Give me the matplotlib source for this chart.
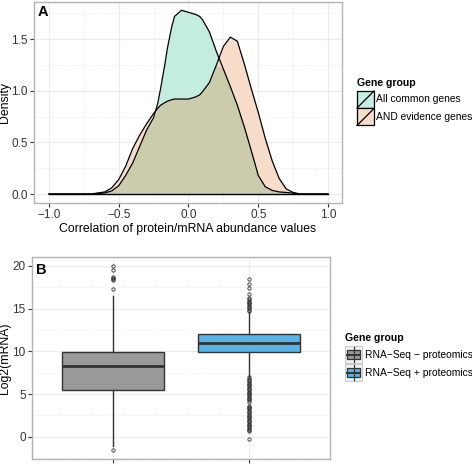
import numpy as np
import matplotlib
matplotlib.use("Agg")
from matplotlib import pyplot as plt
from matplotlib.patches import Rectangle
from matplotlib.lines import Line2D

plt.rcParams['font.family'] = ['Liberation Sans', 'DejaVu Sans']

# panel A: density estimates
corr = [-1.0, -0.7, -0.6, -0.55, -0.5, -0.45, -0.4, -0.35, -0.3, -0.25, -0.22, -0.2,
        -0.17, -0.15, -0.12, -0.1, -0.05, 0.0, 0.05, 0.08, 0.1, 0.15, 0.2, 0.25, 0.3, 0.35, 0.4,
        0.45, 0.5, 0.55, 0.6, 0.65, 0.7, 0.75, 0.8, 1.0]
dens_common = [0.0, 0.0, 0.01, 0.03, 0.08, 0.18, 0.3, 0.46, 0.62, 0.74, 0.88, 1.02,
               1.25, 1.42, 1.62, 1.72, 1.78, 1.76, 1.74, 1.72, 1.69, 1.57, 1.38, 1.21, 1.04, 0.86, 0.65,
               0.42, 0.18, 0.07, 0.035, 0.02, 0.015, 0.008, 0.0, 0.0]
dens_and = [0.0, 0.0, 0.02, 0.06, 0.14, 0.27, 0.44, 0.57, 0.68, 0.78, 0.83, 0.86,
            0.885, 0.9, 0.913, 0.92, 0.92, 0.92, 0.94, 0.96, 0.99, 1.08, 1.25, 1.43, 1.52, 1.48, 1.26,
            1.02, 0.79, 0.54, 0.32, 0.15, 0.05, 0.015, 0.0, 0.0]
groups_a = ["All common genes", "AND evidence genes"]
colors_a = ["#C4EDE2", "#F6DCC9"]
overlap_color = "#CBCCAB"

# panel B: box statistics
groups_b = ["RNA\u2212Seq \u2212 proteomics", "RNA\u2212Seq + proteomics"]
colors_b = ["#999999", "#56B4E9"]
q1 = [5.42, 9.95]
med = [8.3, 10.96]
q3 = [9.95, 12.0]
whislo = [-1.13, 7.05]
whishi = [16.5, 14.66]
fliers_minus = [20.0, 19.5, 18.75, 18.6, 18.45, 18.3, 17.3, -1.6]
fliers_plus = [14.75, 14.9, 15.05, 15.2, 15.35, 15.5, 15.65, 15.8, 15.95, 16.1, 16.2,
               16.7, 17.4, 17.9, 18.5,
               6.95, 6.8, 6.65, 6.5, 6.35, 6.2, 6.05, 5.9, 5.75, 5.6, 5.45, 5.3, 5.15,
               5.0, 4.85, 4.7, 4.55, 4.4, 4.25, 4.1, 3.65, 3.5, 3.35, 3.2, 3.05, 2.9,
               2.75, 2.6, 2.45, 2.3, 2.15, 2.0, 1.85, 1.7, 1.55, 1.4, 1.25, 1.1, 0.95,
               0.8, 0.65, -0.3]

fig = plt.figure(figsize=(4.72, 4.65), dpi=100)
W, H = 472.0, 465.0


def style(ax):
    for s in ax.spines.values():
        s.set_color("#B3B3B3")
        s.set_linewidth(1.0)
    ax.grid(which="major", color="#EBEBEB", linewidth=0.8)
    ax.grid(which="minor", color="#E3E3E3", linewidth=0.6, linestyle=":")
    ax.set_axisbelow(True)
    ax.tick_params(which="major", length=3, color="#333333", labelsize=8.5, labelcolor="#333333", pad=1.5)
    ax.tick_params(which="minor", length=0)


# ---- panel A
axA = fig.add_axes([34 / W, 1 - 203 / H, 308 / W, 201 / H])
x = np.array(corr)
g = np.array(dens_common)
o = np.array(dens_and)
axA.fill_between(x, 0, g, color=colors_a[0], lw=0)
axA.fill_between(x, 0, o, color=colors_a[1], lw=0)
axA.fill_between(x, 0, np.minimum(g, o), color=overlap_color, lw=0)
axA.plot(x, g, color="black", lw=0.9)
axA.plot(x, o, color="black", lw=0.9)
axA.plot([-1, 1], [0, 0], color="black", lw=1.0)
axA.set_xlim(-1.107, 1.10)
axA.set_ylim(-0.087, 1.86)
axA.set_xticks([-1.0, -0.5, 0.0, 0.5, 1.0])
axA.set_xticklabels(["\u22121.0", "\u22120.5", "0.0", "0.5", "1.0"])
axA.set_xticks([-0.75, -0.25, 0.25, 0.75], minor=True)
axA.set_yticks([0.0, 0.5, 1.0, 1.5])
axA.set_yticks([0.25, 0.75, 1.25, 1.75], minor=True)
style(axA)
axA.set_xlabel("Correlation of protein/mRNA abundance values", fontsize=8.8, labelpad=1)
axA.set_ylabel("Density", fontsize=8.8)
axA.yaxis.set_label_coords(-23 / 308, 0.5)
axA.text(0.012, 0.985, "A", transform=axA.transAxes, fontsize=10.5, fontweight="bold",
         va="top", ha="left")

# legend A
fig.text(357 / W, 1 - 83 / H, "Gene group", fontsize=7.6, fontweight="bold", va="center")
for i, (lab, c) in enumerate(zip(groups_a, colors_a)):
    y0 = 91 + i * 17.5
    fig.patches.append(Rectangle((357 / W, 1 - (y0 + 17) / H), 17 / W, 17 / H,
                                 transform=fig.transFigure, facecolor=c,
                                 edgecolor="black", lw=0.9))
    fig.lines.append(Line2D([357 / W, 374 / W], [1 - (y0 + 17) / H, 1 - y0 / H],
                            transform=fig.transFigure, color="black", lw=0.9))
    fig.text(376 / W, 1 - (y0 + 8.5) / H, lab, fontsize=7.4, va="center")

# ---- panel B
axB = fig.add_axes([32 / W, 1 - 459 / H, 298 / W, 202 / H])
fl = [fliers_minus, fliers_plus]
stats = []
for i in range(2):
    stats.append(dict(med=med[i], q1=q1[i], q3=q3[i], whislo=whislo[i],
                      whishi=whishi[i], fliers=fl[i]))
bp = axB.bxp(stats, positions=[1, 2], widths=0.75, patch_artist=True, showcaps=False,
             boxprops=dict(edgecolor="#333333", linewidth=1.0),
             medianprops=dict(color="#333333", linewidth=2.0),
             whiskerprops=dict(color="#333333", linewidth=1.0),
             flierprops=dict(marker="o", markersize=2.4, markerfacecolor="none",
                             markeredgecolor="#333333", markeredgewidth=0.6))
for patch, c in zip(bp["boxes"], colors_b):
    patch.set_facecolor(c)
axB.set_xlim(0.4, 2.6)
axB.set_ylim(-2.6, 21.05)
axB.set_xticks([1, 2])
axB.set_xticklabels(["", ""])
axB.set_yticks([0, 5, 10, 15, 20])
axB.set_yticks([-2.5, 2.5, 7.5, 12.5, 17.5], minor=True)
style(axB)
axB.set_ylabel("Log2(mRNA)", fontsize=8.8)
axB.yaxis.set_label_coords(-21 / 298, 0.5)
axB.text(0.015, 0.97, "B", transform=axB.transAxes, fontsize=10.5, fontweight="bold",
         va="top", ha="left")

# legend B
fig.text(345 / W, 1 - 338 / H, "Gene group", fontsize=7.6, fontweight="bold", va="center")
for i, (lab, c) in enumerate(zip(groups_b, colors_b)):
    y0 = 346 + i * 18
    fig.patches.append(Rectangle((345 / W, 1 - (y0 + 17) / H), 17 / W, 17 / H,
                                 transform=fig.transFigure, facecolor="#F2F2F2",
                                 edgecolor="#CCCCCC", lw=0.8))
    fig.lines.append(Line2D([353.5 / W, 353.5 / W], [1 - (y0 + 16) / H, 1 - (y0 + 1) / H],
                            transform=fig.transFigure, color="#333333", lw=0.9))
    fig.patches.append(Rectangle((347 / W, 1 - (y0 + 13) / H), 13 / W, 9 / H,
                                 transform=fig.transFigure, facecolor=c,
                                 edgecolor="#333333", lw=0.9))
    fig.lines.append(Line2D([347 / W, 360 / W], [1 - (y0 + 8.5) / H, 1 - (y0 + 8.5) / H],
                            transform=fig.transFigure, color="#333333", lw=1.4))
    fig.text(365 / W, 1 - (y0 + 8.5) / H, lab, fontsize=7.4, va="center")

fig.savefig("out.png", dpi=100)
